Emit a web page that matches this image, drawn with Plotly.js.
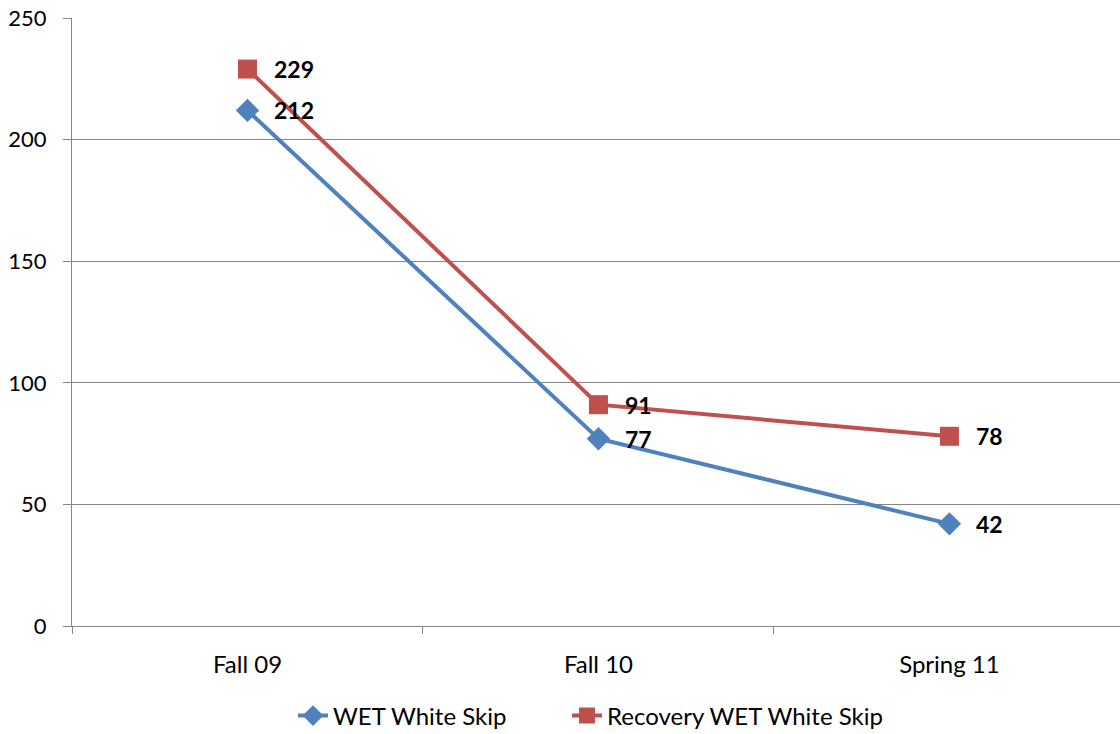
<!DOCTYPE html>
<html><head><meta charset="utf-8">
<script src="https://cdn.plot.ly/plotly-3.0.1.min.js"></script>
<style>body{margin:0;background:#fff}#c{width:1120px;height:734px}</style>
</head><body><div id="c"></div>
<script>
const categories = ["Fall 09", "Fall 10", "Spring 11"];
const wetWhiteSkip = [212, 77, 42];
const recoveryWetWhiteSkip = [229, 91, 78];
const seriesNames = ["WET White Skip", "Recovery WET White Skip"];
const yTicks = [0, 50, 100, 150, 200, 250];

const blue = "#4F81BD", red = "#C0504D";
const font = "Lato, 'Open Sans', sans-serif";

const traces = [
  {x: categories, y: wetWhiteSkip, name: seriesNames[0], type: "scatter", mode: "lines+markers",
   legend: "legend",
   line: {color: blue, width: 4}, marker: {symbol: "diamond", size: 18, color: blue}},
  {x: categories, y: recoveryWetWhiteSkip, name: seriesNames[1], type: "scatter", mode: "lines+markers",
   legend: "legend2",
   line: {color: red, width: 4}, marker: {symbol: "square", size: 19, color: red}}
];

const annotations = [];
[wetWhiteSkip, recoveryWetWhiteSkip].forEach(arr => {
  arr.forEach((v, i) => annotations.push({
    x: categories[i], y: v, text: String(v), showarrow: false, xanchor: "left", yanchor: "middle",
    xshift: 25, font: {family: font, size: 23, color: "#000", weight: "bold"}
  }));
});

const legendBase = {orientation: "h", xref: "container", yref: "container", xanchor: "left",
  y: 18 / 734, yanchor: "middle", font: {family: font, size: 24, color: "#000"}};

const layout = {
  width: 1120, height: 734,
  margin: {l: 72, r: 0, t: 18, b: 108},
  paper_bgcolor: "#fff", plot_bgcolor: "#fff",
  showlegend: true,
  legend: Object.assign({}, legendBase, {x: 293 / 1120}),
  legend2: Object.assign({}, legendBase, {x: 567 / 1120}),
  xaxis: {type: "category", range: [-0.5, 2.486], showgrid: false, showline: true, linecolor: "#868686",
          linewidth: 1, ticks: "outside", tickson: "boundaries", ticklen: 7, tickcolor: "#868686",
          ticklabelstandoff: 17,
          tickfont: {family: font, size: 24, color: "#000"}, zeroline: false, fixedrange: true},
  yaxis: {range: [0, 250], tickvals: yTicks, showgrid: true, gridcolor: "#868686", gridwidth: 1,
          showline: true, linecolor: "#868686", ticks: "outside", ticklen: 8, tickcolor: "#868686",
          ticklabelstandoff: 12,
          tickfont: {family: font, size: 22, color: "#000"}, zeroline: false, fixedrange: true},
  annotations: annotations
};

Plotly.newPlot("c", traces, layout, {displayModeBar: false, staticPlot: true});
</script></body></html>
